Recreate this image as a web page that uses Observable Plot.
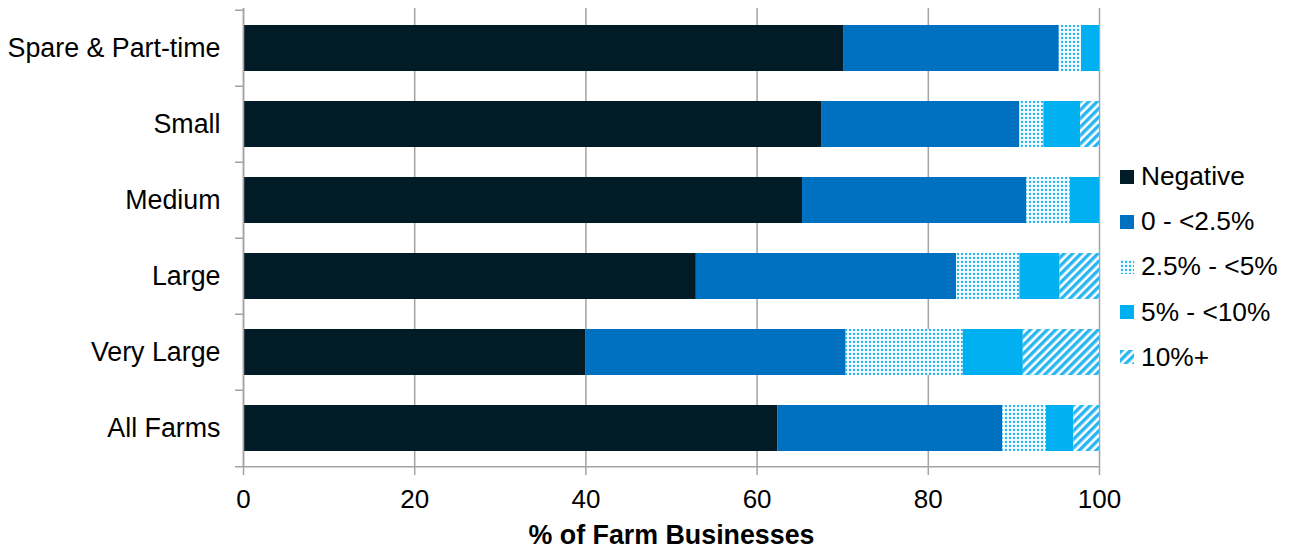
<!DOCTYPE html>
<html><head><meta charset="utf-8">
<script src="https://cdn.jsdelivr.net/npm/d3@7"></script>
<script src="https://cdn.jsdelivr.net/npm/@observablehq/plot@0.6"></script>
<style>
body{margin:0;background:#fff;font-family:"Liberation Sans",Arial,sans-serif;}
#wrap{position:relative;width:1290px;height:548px;overflow:hidden;}
#legend{position:absolute;left:1120px;top:154px;}
.item{display:flex;align-items:center;height:45.2px;font-size:26.3px;color:#000;white-space:nowrap;}
.item svg{margin-right:7px;display:block}
#defs{position:absolute;width:0;height:0;}
</style></head><body>
<div id="wrap">
<svg id="defs" width="0" height="0"><defs>
<pattern id="dots" patternUnits="userSpaceOnUse" width="4" height="4">
<rect width="4" height="4" fill="#f2fbfe"/>
<circle cx="2" cy="2" r="1.15" fill="#1FB2EE"/>
</pattern>
<pattern id="hatch" patternUnits="userSpaceOnUse" width="6" height="6" patternTransform="rotate(45)">
<rect width="6" height="6" fill="#ffffff"/>
<rect width="3.4" height="6" fill="#2AB6F0"/>
</pattern>
</defs></svg>
<div id="chart"></div>
<div id="legend"></div>
</div>
<script>
const categories = ["Spare & Part-time", "Small", "Medium", "Large", "Very Large", "All Farms"];
const series = ["Negative", "0 - <2.5%", "2.5% - <5%", "5% - <10%", "10%+"];
const negative = [70.1, 67.6, 65.3, 52.9, 40.0, 62.4];
const lt2_5   = [25.2, 23.1, 26.2, 30.4, 30.4, 26.3];
const lt5     = [2.6, 2.8, 5.1, 7.4, 13.7, 5.1];
const lt10    = [2.1, 4.3, 3.4, 4.7, 7.0, 3.2];
const plus10  = [0.0, 2.2, 0.0, 4.6, 8.9, 3.0];
const xTicks = [0, 20, 40, 60, 80, 100];
const fills = ["#021C27", "#0070C0", "url(#dots)", "#00B0F0", "url(#hatch)"];

const valuesBySeries = [negative, lt2_5, lt5, lt10, plus10];
const rows = categories.flatMap((c, i) => series.map((s, j) => ({category: c, series: s, value: valuesBySeries[j][i]})));

const W = 1290, H = 548, mT = 8, mB = 81, mL = 243, mR = 191;
const step = (H - mT - mB) / categories.length;
const gray = "#a3a3a3";

const chart = Plot.plot({
  width: W, height: H,
  marginTop: mT, marginBottom: mB, marginLeft: mL, marginRight: mR,
  style: {fontFamily: "'Liberation Sans', Arial, sans-serif", fontSize: "26px", color: "#000", background: "#fff"},
  x: {domain: [0, 100]},
  y: {domain: categories, paddingInner: 0.4, paddingOuter: 0.2},
  color: {domain: series, range: fills},
  marks: [
    Plot.gridX(xTicks, {stroke: gray, strokeOpacity: 1, strokeWidth: 1.5}),
    Plot.barX(rows, {y: "category", x: "value", fill: "series", order: series}),
    Plot.ruleX([0], {stroke: gray, strokeWidth: 1.5}),
    Plot.ruleY(categories, {y: d => d, dy: -step / 2, x1: 0, x2: 0, insetLeft: -8, stroke: gray, strokeWidth: 1.5}),
    Plot.ruleY(categories.slice(-1), {y: d => d, dy: step / 2, x1: 0, x2: 100, insetLeft: -8, stroke: gray, strokeWidth: 1.5}),
    Plot.axisY({tickSize: 0, tickPadding: 23, fontSize: 26.8, fill: "#000", label: null}),
    Plot.axisX(xTicks, {tickSize: 8, tickPadding: 14, stroke: gray, strokeWidth: 1.5, fill: "#000", fontSize: 26,
      label: "% of Farm Businesses", labelAnchor: "center", labelArrow: "none", labelOffset: 76})
  ]
});
document.getElementById("chart").appendChild(chart);
// bold, slightly larger axis label
chart.querySelectorAll("text").forEach(t => {
  if (t.textContent.includes("Farm Businesses")) { t.setAttribute("font-weight", "bold"); t.setAttribute("font-size", "26.8"); }
});

const legend = d3.select("#legend");
series.forEach((s, j) => {
  const item = legend.append("div").attr("class", "item");
  item.append("svg").attr("width", 14).attr("height", 14)
    .append("rect").attr("width", 14).attr("height", 14).attr("fill", fills[j]);
  item.append("span").text(s);
});
</script>
</body></html>
